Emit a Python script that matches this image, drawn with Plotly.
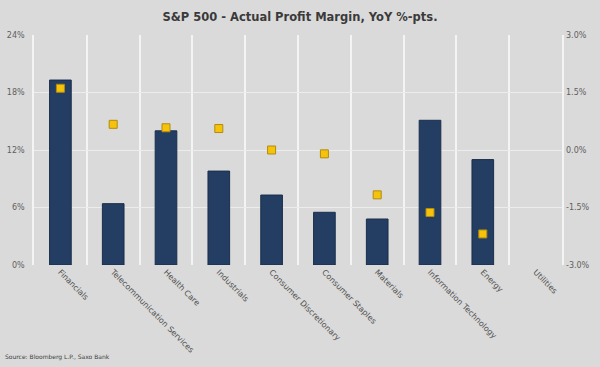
import plotly.graph_objects as go

categories = ["Financials", "Telecommunication Services", "Health Care", "Industrials",
              "Consumer Discretionary", "Consumer Staples", "Materials",
              "Information Technology", "Energy", "Utilities"]
profit_margin = [19.3, 6.4, 14.0, 9.8, 7.3, 5.5, 4.8, 15.1, 11.0, None]
yoy_change = [1.61, 0.67, 0.58, 0.56, 0.0, -0.10, -1.17, -1.63, -2.19, None]

left_ticks = [0, 6, 12, 18, 24]
right_ticks = [-3.0, -1.5, 0.0, 1.5, 3.0]

font_family = "DejaVu Sans, Verdana, sans-serif"
bg = "#dadada"

fig = go.Figure()
fig.add_trace(go.Bar(
    x=categories, y=profit_margin, width=0.41,
    marker=dict(color="#233e62", line=dict(color="#1a2e4a", width=1)),
    name="Actual Profit Margin", showlegend=False,
))
fig.add_trace(go.Scatter(
    x=categories, y=yoy_change, yaxis="y2", mode="markers",
    marker=dict(symbol="square", size=8, color="#f5c30a",
                line=dict(color="#b38a10", width=1)),
    name="YoY %-pts.", showlegend=False,
))

fig.update_layout(
    width=600, height=367,
    paper_bgcolor=bg, plot_bgcolor=bg,
    margin=dict(l=34, r=38, t=35, b=102),
    title=dict(text="<b>S&P 500 - Actual Profit Margin, YoY %-pts.</b>",
               x=0.5, xanchor="center", y=0.953, yanchor="middle",
               font=dict(family=font_family, size=11.5, color="#3a3a3a")),
    xaxis=dict(
        type="category", tickson="boundaries", tickangle=45,
        range=[-0.5, 9.5], automargin=False,
        showgrid=True, gridcolor="#f4f4f4", gridwidth=1.5,
        ticks="", showline=False, zeroline=False,
        tickfont=dict(family=font_family, size=8, color="#505050"),
    ),
    yaxis=dict(
        range=[0, 24], tickvals=left_ticks,
        ticktext=[f"{v}%" for v in left_ticks],
        showgrid=True, gridcolor="#ececec", gridwidth=1,
        zeroline=False, ticks="", ticklabelstandoff=6, automargin=False,
        showline=True, linecolor="#f4f4f4", linewidth=1.5, mirror=True,
        tickfont=dict(family=font_family, size=8, color="#606060"),
    ),
    yaxis2=dict(
        range=[-3, 3], tickvals=right_ticks,
        ticktext=[f"{v:.1f}%" for v in right_ticks],
        overlaying="y", side="right", ticklabelstandoff=3, automargin=False,
        showgrid=False, zeroline=False, ticks="", showline=False,
        tickfont=dict(family=font_family, size=8, color="#606060"),
    ),
    annotations=[dict(
        text="Source: Bloomberg L.P., Saxo Bank", xref="paper", yref="paper",
        x=-0.058, y=-0.40, xanchor="left", yanchor="middle", showarrow=False,
        font=dict(family=font_family, size=6, color="#404040"),
    )],
)

fig.write_html("out.html", config={"displayModeBar": False},
               post_script="document.body.style.margin='0';")
